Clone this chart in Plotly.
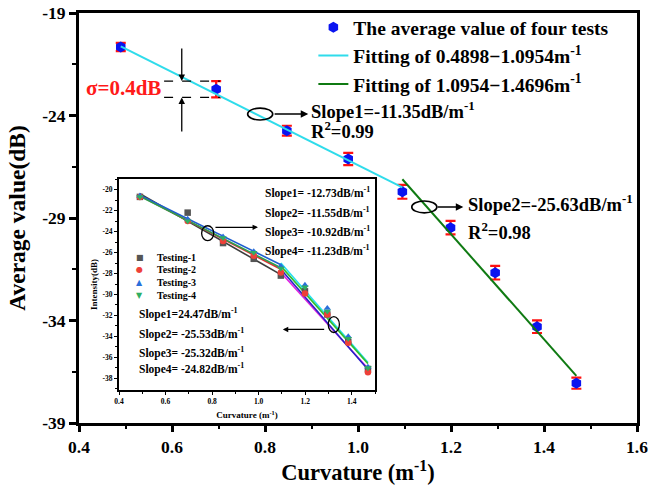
import numpy as np
import plotly.graph_objects as go

# ---- averaged measurement (main axes) ----
curvature = [0.4898, 0.695, 0.847, 0.979, 1.0954, 1.199, 1.295, 1.385, 1.4696]
avg_db = [-20.66, -22.72, -24.74, -26.12, -27.72, -29.47, -31.67, -34.30, -37.06]
avg_err = [0.2, 0.4, 0.24, 0.3, 0.34, 0.33, 0.33, 0.31, 0.27]

# linear fits of the two curvature ranges
fit_names = ["Fitting of 0.4898\u22121.0954m<sup>-1</sup>",
             "Fitting of 1.0954\u22121.4696m<sup>-1</sup>"]
fit_lo = [0.4898, 1.0954]
fit_hi = [1.0954, 1.4696]
fit_slope = [-11.35, -25.63]
fit_icept = [-15.07, 0.966]
fit_colors = ["#2fdceb", "#0f7a12"]

# ---- individual tests (inset) ----
test_names = ["Testing-1", "Testing-2", "Testing-3", "Testing-4"]
test1_db = [-20.7, -22.2, -25.1, -26.6, -28.2, -29.7, -31.9, -34.5, -37.1]
test2_db = [-20.7, -23.0, -24.9, -26.3, -27.9, -29.9, -31.9, -34.6, -37.4]
test3_db = [-20.6, -22.8, -24.5, -25.9, -27.3, -29.1, -31.3, -34.0, -36.9]
test4_db = [-20.7, -23.0, -24.6, -26.0, -27.5, -29.3, -31.6, -34.2, -37.0]
test_colors = ["#555555", "#ee4038", "#2a6fdb", "#2fae62"]
test_symbols = ["square", "circle", "triangle-up", "triangle-down"]
test_glyphs = ["\u25a0", "\u25cf", "\u25b2", "\u25bc"]

# per-test fits: first and second range
seg1_slope = [-12.73, -11.55, -10.92, -11.23]
seg1_icept = [-14.165, -14.94, -15.20, -15.15]
seg1_colors = ["#3c3c3c", "#e03030", "#1f5fd0", "#2aa050"]
seg2_slope = [-24.47, -25.53, -25.32, -24.82]
seg2_icept = [-1.096, 0.366, 0.736, -0.112]
seg2_colors = ["#e020e0", "#2424c8", "#22e0f0", "#30c030"]
seg1_labels = ["Slope1= -12.73dB/m<sup>-1</sup>", "Slope2= -11.55dB/m<sup>-1</sup>",
               "Slope3= -10.92dB/m<sup>-1</sup>", "Slope4= -11.23dB/m<sup>-1</sup>"]
seg2_labels = ["Slope1=24.47dB/m<sup>-1</sup>", "Slope2= -25.53dB/m<sup>-1</sup>",
               "Slope3= -25.32dB/m<sup>-1</sup>", "Slope4= -24.82dB/m<sup>-1</sup>"]

# ---- tick labels ----
main_x_ticks = [0.4, 0.6, 0.8, 1.0, 1.2, 1.4, 1.6]
main_x_labels = ["0.4", "0.6", "0.8", "1.0", "1.2", "1.4", "1.6"]
main_y_ticks = [-19, -24, -29, -34, -39]
main_y_labels = ["-19", "-24", "-29", "-34", "-39"]
inset_x_ticks = [0.4, 0.6, 0.8, 1.0, 1.2, 1.4]
inset_x_labels = ["0.4", "0.6", "0.8", "1.0", "1.2", "1.4"]
inset_y_ticks = [-20, -22, -24, -26, -28, -30, -32, -34, -36, -38]
inset_y_labels = ["-20", "-22", "-24", "-26", "-28", "-30", "-32", "-34", "-36", "-38"]

SERIF = "Liberation Serif"


def bold(size, color="black"):
    return dict(family=SERIF, size=size, color=color, weight="bold")


fig = go.Figure()

# averaged values with error bars
fig.add_trace(go.Scatter(
    x=curvature, y=avg_db, mode="markers",
    name="The average value of four tests",
    marker=dict(symbol="hexagon", size=11, color="#0a14f0"),
    error_y=dict(type="data", array=avg_err, color="#ff1010", thickness=2.2, width=5),
    xaxis="x", yaxis="y",
))

# fitted lines
for name, lo, hi, k, b, c in zip(fit_names, fit_lo, fit_hi, fit_slope, fit_icept, fit_colors):
    xs = np.array([lo, hi])
    fig.add_trace(go.Scatter(x=xs, y=b + k * xs, mode="lines", name=name,
                             line=dict(color=c, width=2.0), xaxis="x", yaxis="y"))

# inset: per-test fitted segments
for k, b, c in zip(seg1_slope, seg1_icept, seg1_colors):
    xs = np.array([fit_lo[0], fit_hi[0]])
    fig.add_trace(go.Scatter(x=xs, y=b + k * xs, mode="lines", showlegend=False,
                             line=dict(color=c, width=1.6), xaxis="x2", yaxis="y2"))
for k, b, c in zip(seg2_slope, seg2_icept, seg2_colors):
    xs = np.array([fit_lo[1], fit_hi[1]])
    fig.add_trace(go.Scatter(x=xs, y=b + k * xs, mode="lines", showlegend=False,
                             line=dict(color=c, width=1.6), xaxis="x2", yaxis="y2"))

# inset: per-test markers
for name, ys, c, s in zip(test_names, [test1_db, test2_db, test3_db, test4_db],
                          test_colors, test_symbols):
    fig.add_trace(go.Scatter(x=curvature, y=ys, mode="markers", name=name, showlegend=False,
                             marker=dict(symbol=s, size=6.5, color=c),
                             xaxis="x2", yaxis="y2"))

ann = []
shapes = []

# --- main-axes annotations ---
ann.append(dict(x=0.581, y=-22.66, xref="x", yref="y", text="\u03c3=0.4dB", showarrow=False,
                xanchor="right", yanchor="middle", font=bold(21, "#ff1a1a")))
for yy in (-22.32, -23.12):
    shapes.append(dict(type="line", xref="x", yref="y", x0=0.583, x1=0.703, y0=yy, y1=yy,
                       line=dict(color="black", width=1.3, dash="dash")))
ann.append(dict(x=0.621, y=-22.32, ax=0.621, ay=-20.66, xref="x", yref="y", axref="x", ayref="y",
                text="", showarrow=True, arrowhead=2, arrowsize=1, arrowwidth=1.3, arrowcolor="black"))
ann.append(dict(x=0.621, y=-23.12, ax=0.621, ay=-24.85, xref="x", yref="y", axref="x", ayref="y",
                text="", showarrow=True, arrowhead=2, arrowsize=1, arrowwidth=1.3, arrowcolor="black"))

for cx, cy in ((0.7896, -23.93), (1.1426, -28.46)):
    shapes.append(dict(type="circle", xref="x", yref="y", x0=cx - 0.027, x1=cx + 0.027,
                       y0=cy - 0.29, y1=cy + 0.29, line=dict(color="black", width=1.6)))
ann.append(dict(x=0.893, y=-23.93, ax=0.8175, ay=-23.93, xref="x", yref="y", axref="x", ayref="y",
                text="", showarrow=True, arrowhead=2, arrowsize=1, arrowwidth=1.5, arrowcolor="black"))
ann.append(dict(x=1.2265, y=-28.46, ax=1.168, ay=-28.46, xref="x", yref="y", axref="x", ayref="y",
                text="", showarrow=True, arrowhead=2, arrowsize=1, arrowwidth=1.5, arrowcolor="black"))

ann.append(dict(x=0.895, y=-23.75, xref="x", yref="y", text="Slope1=-11.35dB/m<sup>-1</sup>",
                showarrow=False, xanchor="left", yanchor="middle", font=bold(18.5)))
ann.append(dict(x=0.895, y=-24.71, xref="x", yref="y", text="R<sup>2</sup>=0.99",
                showarrow=False, xanchor="left", yanchor="middle", font=bold(18.5)))
ann.append(dict(x=1.233, y=-28.27, xref="x", yref="y", text="Slope2=-25.63dB/m<sup>-1</sup>",
                showarrow=False, xanchor="left", yanchor="middle", font=bold(18.5)))
ann.append(dict(x=1.233, y=-29.62, xref="x", yref="y", text="R<sup>2</sup>=0.98",
                showarrow=False, xanchor="left", yanchor="middle", font=bold(18.5)))

# --- inset annotations ---
for i, t in enumerate(seg1_labels):
    ann.append(dict(x=1.018, y=[-20.26, -22.16, -24.0, -25.81][i], xref="x2", yref="y2", text=t,
                    showarrow=False, xanchor="left", yanchor="middle", font=bold(11.5)))
for i, t in enumerate(seg2_labels):
    ann.append(dict(x=0.476, y=[-31.81, -33.71, -35.52, -37.05][i], xref="x2", yref="y2", text=t,
                    showarrow=False, xanchor="left", yanchor="middle", font=bold(11.5)))
for i, (name, g, c) in enumerate(zip(test_names, test_glyphs, test_colors)):
    yy = [-26.45, -27.62, -28.86, -30.07][i]
    ann.append(dict(x=0.49, y=yy, xref="x2", yref="y2", text=g, showarrow=False,
                    xanchor="center", yanchor="middle", font=dict(family="DejaVu Sans", size=8, color=c)))
    ann.append(dict(x=0.5545, y=yy, xref="x2", yref="y2", text=name, showarrow=False,
                    xanchor="left", yanchor="middle", font=bold(10)))

shapes.append(dict(type="circle", xref="x2", yref="y2", x0=0.781 - 0.026, x1=0.781 + 0.026,
                   y0=-24.16 - 0.71, y1=-24.16 + 0.71, line=dict(color="black", width=1.3)))
shapes.append(dict(type="circle", xref="x2", yref="y2", x0=1.323 - 0.024, x1=1.323 + 0.024,
                   y0=-32.86 - 0.76, y1=-32.86 + 0.76, line=dict(color="black", width=1.3)))
ann.append(dict(x=0.997, y=-23.6, ax=0.808, ay=-23.6, xref="x2", yref="y2", axref="x2", ayref="y2",
                text="", showarrow=True, arrowhead=2, arrowsize=0.9, arrowwidth=1.2, arrowcolor="black"))
ann.append(dict(x=1.104, y=-33.33, ax=1.288, ay=-33.33, xref="x2", yref="y2", axref="x2", ayref="y2",
                text="", showarrow=True, arrowhead=2, arrowsize=0.9, arrowwidth=1.2, arrowcolor="black"))

fig.update_layout(
    width=662, height=490,
    margin=dict(l=79, r=25, t=13, b=67, autoexpand=False),
    paper_bgcolor="white", plot_bgcolor="white",
    font=dict(family=SERIF, color="black"),
    showlegend=True,
    legend=dict(x=0.42, y=1.012, xanchor="left", yanchor="top", bgcolor="rgba(0,0,0,0)",
                borderwidth=0, font=bold(19.5), itemwidth=30),
    xaxis=dict(domain=[0, 1], range=[0.4, 1.6], anchor="y", automargin=False,
               tickvals=main_x_ticks, ticktext=main_x_labels, tickfont=bold(17.5),
               ticks="outside", ticklen=6, tickwidth=2.5, tickcolor="black",
               minor=dict(ticks="outside", ticklen=3, tickwidth=2, tick0=0.4, dtick=0.1, tickcolor="black"),
               showline=True, linewidth=3, linecolor="black", mirror=True,
               showgrid=False, zeroline=False,
               title=dict(text="Curvature (m<sup>-1</sup>)", font=bold(22.5), standoff=8)),
    yaxis=dict(domain=[0, 1], range=[-39, -19], anchor="x", automargin=False,
               tickvals=main_y_ticks, ticktext=main_y_labels, tickfont=bold(17.5),
               ticks="outside", ticklen=7, tickwidth=2.5, tickcolor="black",
               minor=dict(ticks="outside", ticklen=4, tickwidth=2, tick0=-39, dtick=2.5, tickcolor="black"),
               showline=True, linewidth=3, linecolor="black", mirror=True,
               showgrid=False, zeroline=False,
               title=dict(text="Average value(dB)", font=bold(23.5), standoff=10)),
    xaxis2=dict(domain=[0.0717, 0.5305], range=[0.4, 1.5], anchor="y2", automargin=False,
                tickvals=inset_x_ticks, ticktext=inset_x_labels, tickfont=bold(7.5),
                ticks="outside", ticklen=3, tickwidth=1.2, tickcolor="black",
                minor=dict(ticks="outside", ticklen=2, tickwidth=1, tick0=0.4, dtick=0.1, tickcolor="black"),
                showline=True, linewidth=2, linecolor="black", mirror=True,
                showgrid=False, zeroline=False,
                title=dict(text="Curvature (m<sup>-1</sup>)", font=bold(9), standoff=7)),
    yaxis2=dict(domain=[0.0805, 0.595], range=[-39.1, -19], anchor="x2", automargin=False,
                tickvals=inset_y_ticks, ticktext=inset_y_labels, tickfont=bold(7.5),
                ticks="outside", ticklen=3, tickwidth=1.2, tickcolor="black",
                minor=dict(ticks="outside", ticklen=2, tickwidth=1, tick0=-39, dtick=1, tickcolor="black"),
                showline=True, linewidth=2, linecolor="black", mirror=True,
                showgrid=False, zeroline=False,
                title=dict(text="Intensity(dB)", font=bold(9), standoff=3)),
    annotations=ann,
    shapes=shapes,
)

fig.write_html("out.html")
